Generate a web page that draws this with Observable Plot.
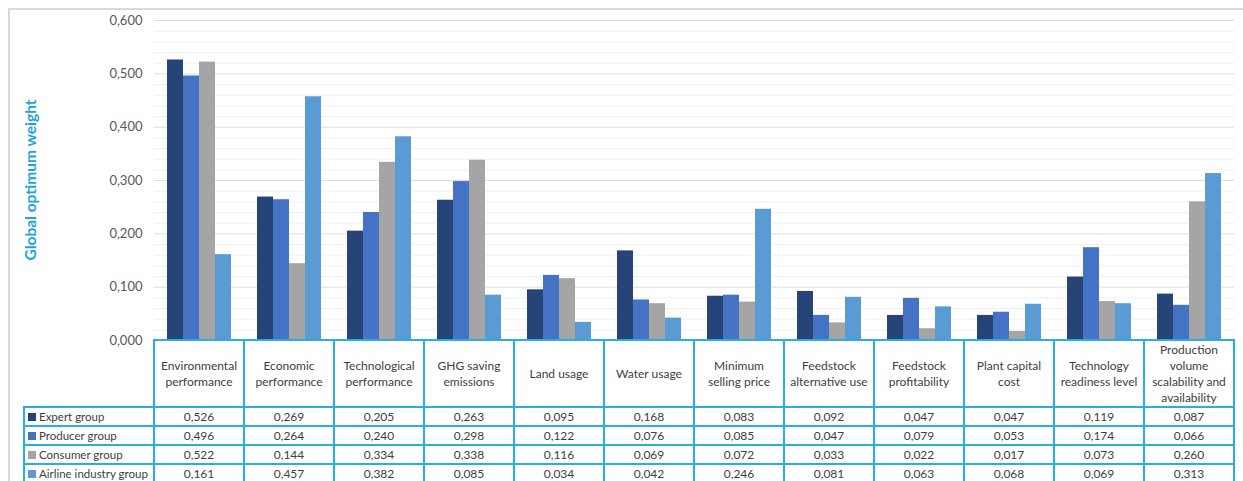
<!DOCTYPE html>
<html>
<head>
<meta charset="utf-8">
<script src="https://cdn.jsdelivr.net/npm/d3@7"></script>
<script src="https://cdn.jsdelivr.net/npm/@observablehq/plot@0.6"></script>
<style>
  html, body { margin: 0; padding: 0; background: #fff; }
  #root { position: relative; width: 1243px; height: 481px; overflow: hidden; font-family: Lato, "Open Sans", sans-serif; }
  #root svg { position: absolute; left: 0; top: 0; overflow: visible; }
  .ln { position: absolute; background: #2aaee0; }
  .frame { position: absolute; background: #d9d9d9; }
  .hdr { position: absolute; display: flex; align-items: center; justify-content: center; text-align: center;
         font-size: 12px; line-height: 16px; color: #404040; white-space: pre-line; }
  .val { position: absolute; text-align: center; font-size: 12px; line-height: 19px; color: #404040; }
  .leg { position: absolute; font-size: 11.5px; line-height: 19px; color: #404040; white-space: nowrap; }
  .sw { display: inline-block; width: 8px; height: 8px; margin-right: 3px; vertical-align: 0px; }
  .ylab { position: absolute; left: 30px; top: 180px; transform: translate(-50%, -50%) rotate(-90deg);
          font-weight: bold; font-size: 15.5px; color: #1aa3dc; white-space: nowrap; }
</style>
</head>
<body>
<div id="root"></div>
<script>
const categories = [
  "Environmental\nperformance",
  "Economic\nperformance",
  "Technological\nperformance",
  "GHG saving\nemissions",
  "Land usage",
  "Water usage",
  "Minimum\nselling price",
  "Feedstock\nalternative use",
  "Feedstock\nprofitability",
  "Plant capital\ncost",
  "Technology\nreadiness level",
  "Production\nvolume\nscalability and\navailability"
];
const groups = ["Expert group", "Producer group", "Consumer group", "Airline industry group"];
const expert   = [0.526, 0.269, 0.205, 0.263, 0.095, 0.168, 0.083, 0.092, 0.047, 0.047, 0.119, 0.087];
const producer = [0.496, 0.264, 0.240, 0.298, 0.122, 0.076, 0.085, 0.047, 0.079, 0.053, 0.174, 0.066];
const consumer = [0.522, 0.144, 0.334, 0.338, 0.116, 0.069, 0.072, 0.033, 0.022, 0.017, 0.073, 0.260];
const airline  = [0.161, 0.457, 0.382, 0.085, 0.034, 0.042, 0.246, 0.081, 0.063, 0.068, 0.069, 0.313];
const yTicks = [0, 0.1, 0.2, 0.3, 0.4, 0.5, 0.6];
const colors = ["#264478", "#4472C4", "#A5A5A5", "#5B9BD5"];

(function () {
const series = [expert, producer, consumer, airline];
const rows = [];
categories.forEach((c, i) => groups.forEach((g, j) => rows.push({cat: c, group: g, value: series[j][i]})));
const minorTicks = d3.range(0, 31).map(k => k * 0.02).filter(v => !yTicks.some(t => Math.abs(t - v) < 1e-9));
const fmt = v => v.toFixed(3).replace(".", ",");

const W = 1243, mLeft = 154, mRight = 9, mTop = 20, base = 340;
const chart = Plot.plot({
  width: W,
  height: base + 1,
  marginTop: mTop,
  marginBottom: 1,
  marginLeft: mLeft,
  marginRight: mRight,
  style: {fontFamily: "Lato, 'Open Sans', sans-serif", fontSize: "13px", color: "#595959", background: "transparent", overflow: "visible"},
  fx: {domain: categories, padding: 0, axis: null},
  x: {domain: groups, paddingInner: 0, paddingOuter: 0.8125, axis: null},
  y: {domain: [0, 0.6], ticks: yTicks, tickFormat: fmt, tickSize: 0, tickPadding: 12, label: null},
  color: {domain: groups, range: colors},
  marks: [
    Plot.ruleY(minorTicks, {stroke: "#f0f0f0", strokeWidth: 1}),
    Plot.ruleY(yTicks, {stroke: "#dedede", strokeWidth: 1}),
    Plot.barY(rows, {fx: "cat", x: "group", y: "value", fill: "group"})
  ]
});

const root = document.getElementById("root");
const add = (cls, css, html) => {
  const d = document.createElement("div");
  d.className = cls;
  Object.assign(d.style, css);
  if (html !== undefined) d.innerHTML = html;
  root.appendChild(d);
  return d;
};
add("frame", {left: "8px", top: "8px", width: "1.5px", height: "480px"});
add("frame", {left: "8px", top: "8px", width: "1240px", height: "1.5px"});
root.appendChild(chart);
add("ylab", {}, "Global optimum weight");

const colW = 90, legL = 24, hdrTop = 340, hdrH = 67, rowH = 19;
const rowTops = groups.map((g, j) => hdrTop + hdrH + j * rowH);
const tableR = mLeft + categories.length * colW;
const lw = 2;
add("ln", {left: mLeft - 1 + "px", top: hdrTop - 1 + "px", width: tableR - mLeft + 2 + "px", height: lw + "px"});
rowTops.forEach(t => add("ln", {left: legL - 1 + "px", top: t - 1 + "px", width: tableR - legL + 2 + "px", height: lw + "px"}));
add("ln", {left: legL - 1 + "px", top: hdrTop + hdrH + 4 * rowH - 1 + "px", width: tableR - legL + 2 + "px", height: lw + "px"});
for (let i = 0; i <= categories.length; i++) {
  add("ln", {left: mLeft + i * colW - 1 + "px", top: hdrTop - 1 + "px", width: lw + "px", height: "160px"});
}
add("ln", {left: legL - 1 + "px", top: hdrTop + hdrH - 1 + "px", width: lw + "px", height: "100px"});
categories.forEach((c, i) => {
  const d = add("hdr", {left: mLeft + i * colW + "px", top: hdrTop + "px", width: colW + "px", height: hdrH + "px"});
  d.textContent = c;
});
groups.forEach((g, j) => {
  add("leg", {left: legL + 4 + "px", top: rowTops[j] + "px", height: rowH + "px"},
      `<span class="sw" style="background:${colors[j]}"></span>${g}`);
  categories.forEach((c, i) => {
    add("val", {left: mLeft + i * colW + "px", top: rowTops[j] + "px", width: colW + "px", height: rowH + "px"}, fmt(series[j][i]));
  });
});
})();
</script>
</body>
</html>
